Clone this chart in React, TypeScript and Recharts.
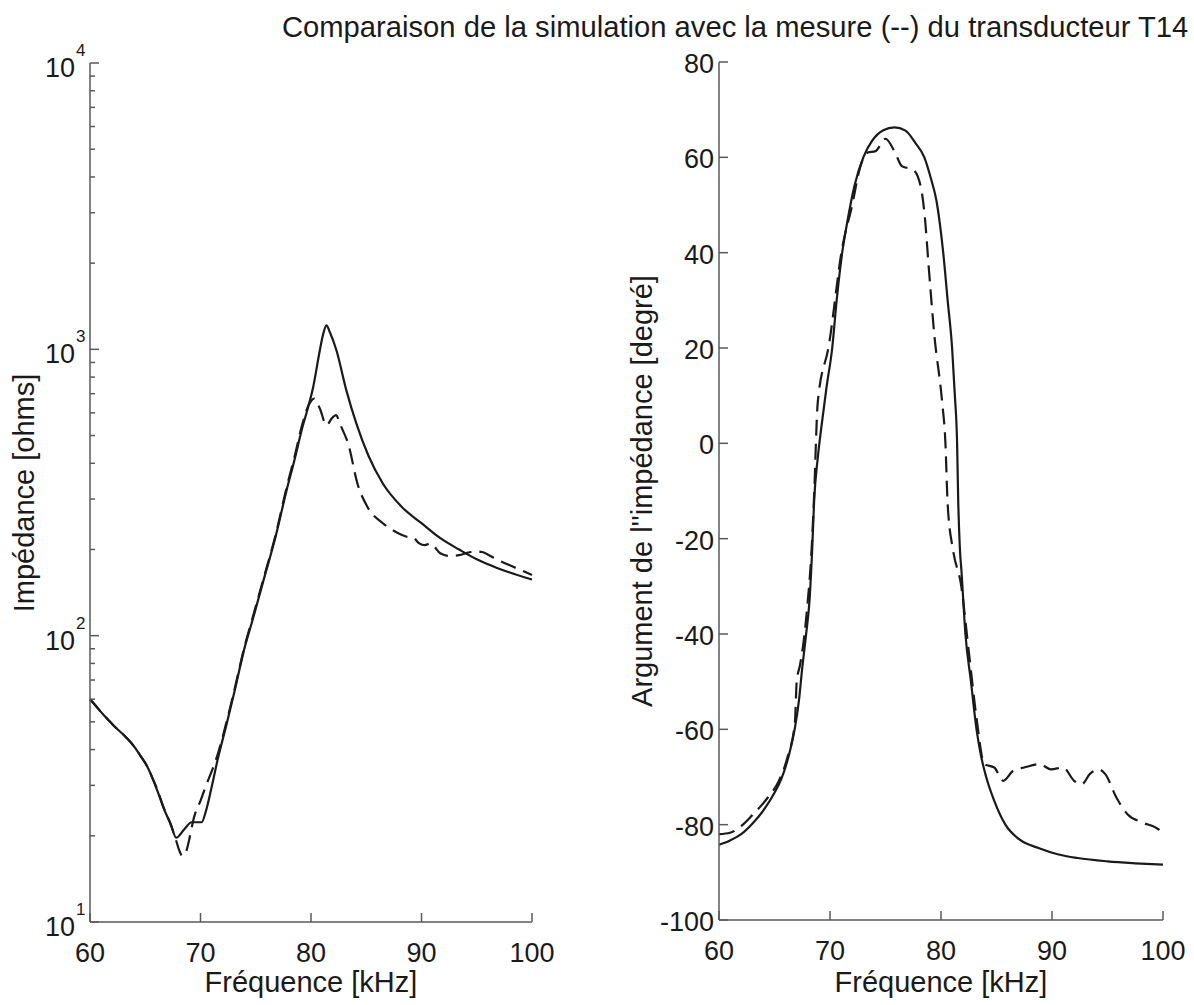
import { LineChart, Line, XAxis, YAxis } from "recharts";

const INK = "#1a1a1a";
const FRAME = "#5a5a5a";
const FONT = "'Liberation Sans', Arial, Helvetica, sans-serif";

// axis ticks
const freqTicks = [60, 70, 80, 90, 100];
const logTicks = [
  10, 20, 30, 40, 50, 60, 70, 80, 90,
  100, 200, 300, 400, 500, 600, 700, 800, 900,
  1000, 2000, 3000, 4000, 5000, 6000, 7000, 8000, 9000, 10000,
];
const argTicks = [-100, -80, -60, -40, -20, 0, 20, 40, 60, 80];

// left panel: impedance modulus, simulation (solid)
const simFreqL = [
  60, 60.5, 61.3, 62.2, 63.25, 64.0, 64.6, 65.2, 65.7, 66.2, 66.7, 67.3, 67.8, 68.5,
  69.2, 70.1, 70.5, 71.0, 71.6, 72.3, 73.0, 74.0, 74.7, 75.7, 76.8, 77.8, 78.5, 79.2,
  79.7, 80.2, 80.8, 81.1, 81.4, 81.7, 82.3, 83.2, 84.1, 85.2, 86.5, 88.2, 90.0, 91.7,
  93.4, 95.1, 96.9, 100,
];
const simImpL = [
  60, 57, 52.5, 48.3, 44.2, 41, 37.9, 34.8, 31.5, 28, 24.8, 22, 19.7, 21,
  22.3, 22.3, 24.5, 29.5, 37.6, 48, 62, 91, 113, 156, 222, 323, 410, 530,
  620, 739, 993, 1130, 1213, 1150, 993, 719, 551, 425, 340, 282, 247, 219,
  200, 184, 172, 157,
];

// left panel: impedance modulus, measurement (dashed)
const mesFreqL = [
  60, 60.5, 61.3, 62.2, 63.25, 64.0, 64.6, 65.2, 65.7, 66.2, 66.6, 67.2, 67.7, 68.1,
  68.35, 68.6, 69.5, 70.0, 70.5, 71.0, 71.6, 72.3, 73.0, 74.0, 74.7, 75.7, 76.8, 77.8,
  78.5, 79.2, 79.8, 80.3, 80.8, 81.4, 81.9, 82.25, 82.7, 83.4, 84.2, 85.1, 86.5, 87.9,
  88.6, 89.3, 89.8, 90.3, 90.8, 91.7, 92.5, 93.4, 94.2, 94.8, 95.5, 96.2, 96.9, 98.3,
  100,
];
const mesImpL = [
  60, 57, 52.5, 48.3, 44.2, 41, 37.9, 34.8, 31.5, 28.3, 25.5, 22.4, 19.8, 17.7,
  17.0, 17.3, 23.8, 26.5, 30, 33.5, 39, 49, 63, 92, 115, 158, 225, 330,
  420, 545, 640, 673, 621, 543, 575, 589, 540, 463, 340, 282, 247, 228,
  222, 219, 210, 207, 210, 194, 190, 191, 195, 197, 196, 190, 184, 174,
  163,
];

// right panel: impedance phase, simulation (solid)
const simFreqR = [
  60, 61, 62, 63, 64, 65, 65.6, 66.15, 66.5, 66.84, 67.2, 67.5, 67.85, 68.15,
  68.4, 68.57, 68.9, 69.2, 69.7, 70.2, 70.6, 71.1, 71.6, 72.2, 73.0, 73.8, 74.8, 75.8,
  76.8, 77.7, 78.5, 79.1, 79.6, 80.2, 80.6, 81.0, 81.25, 81.45, 81.55, 81.7, 81.85, 82.2,
  82.7, 83.2, 83.6, 84.07, 84.8, 85.8, 87, 88.9, 90.5, 92.3, 95, 97.5, 100,
];
const simArgR = [
  -84.2, -83.3, -82, -79.8, -77, -73.3, -70.5, -66.7, -63.5, -59.7, -54, -47.1, -40, -33.1,
  -22, -12.1, -3, 3, 12, 20, 30, 40, 47, 54, 60, 63.5, 65.7, 66.3,
  65.6, 63, 60, 55.5, 50.8, 40, 30, 20, 10, 0, -12, -22, -27, -40,
  -50, -60, -65.5, -70, -75, -80, -83, -85, -86.2, -87, -87.7, -88.1, -88.4,
];

// right panel: impedance phase, measurement (dashed)
const mesFreqR = [
  60, 61, 62, 63, 64.4, 65.4, 66.15, 66.84, 67.0, 67.3, 67.6, 68.0, 68.3, 68.55,
  68.9, 69.9, 71.1, 72.0, 72.7, 73.4, 74.1, 75.0, 75.8, 76.5, 77.5, 78.2, 78.55, 78.9,
  79.4, 80.1, 80.4, 80.6, 81.1, 81.8, 82.5, 83.2, 83.9, 84.8, 85.6, 86.5, 87.5, 88.9,
  89.9, 91.0, 92.0, 92.7, 93.4, 94.2, 94.8, 95.8, 96.8, 98.2, 99.6, 100,
];
const mesArgR = [
  -82, -81.7, -80.3, -78, -74.3, -70.8, -66, -58.5, -50, -46.5, -42, -33, -24, -12,
  8.7, 20.6, 41, 50, 57.8, 61, 61.3, 63.9, 61.3, 58.1, 57.4, 53.6, 47.3, 36.8,
  22.7, 8.7, 0, -12.8, -22.6, -29.6, -43.6, -57.6, -67.3, -68, -70.8, -68.7, -68, -67.3,
  -68.4, -68, -70.8, -71.5, -69.4, -68.4, -69.4, -74.3, -77.8, -79.6, -81, -82,
];

const zip = (fs: number[], vs: number[]) => fs.map((f, i) => ({ f, v: vs[i] }));

const simL = zip(simFreqL, simImpL);
const mesL = zip(mesFreqL, mesImpL);
const simR = zip(simFreqR, simArgR);
const mesR = zip(mesFreqR, mesArgR);

const txt = { fontFamily: FONT, fill: INK };

const BottomTick = (p: any) => (
  <g>
    <line x1={p.x} x2={p.x} y1={p.y} y2={p.y - 9} stroke={FRAME} strokeWidth={1.5} />
    <text x={p.x} y={p.y + 40} textAnchor="middle" fontSize={27} {...txt}>
      {p.payload.value}
    </text>
  </g>
);

const TopTick = (p: any) => (
  <line x1={p.x} x2={p.x} y1={p.y} y2={p.y + 9} stroke={FRAME} strokeWidth={1.5} />
);

const isDecade = (v: number) => {
  const e = Math.log10(v);
  return Math.abs(e - Math.round(e)) < 1e-6;
};

const LogTick = (p: any) => {
  const v = p.payload.value;
  const major = isDecade(v);
  return (
    <g>
      <line x1={p.x} x2={p.x + (major ? 9 : 5)} y1={p.y} y2={p.y} stroke={FRAME} strokeWidth={1.5} />
      {major && (
        <text x={p.x - 45} y={p.y + 14} fontSize={27} {...txt}>
          10
          <tspan x={p.x - 14} y={p.y - 7} fontSize={17}>
            {Math.round(Math.log10(v))}
          </tspan>
        </text>
      )}
    </g>
  );
};

const LogTickRight = (p: any) => {
  const major = isDecade(p.payload.value);
  return (
    <line x1={p.x} x2={p.x - (major ? 9 : 5)} y1={p.y} y2={p.y} stroke={FRAME} strokeWidth={1.5} />
  );
};

const ArgTick = (p: any) => (
  <g>
    <line x1={p.x} x2={p.x + 9} y1={p.y} y2={p.y} stroke={FRAME} strokeWidth={1.5} />
    <text x={p.x - 5} y={p.y + 11} textAnchor="end" fontSize={27} {...txt}>
      {p.payload.value}
    </text>
  </g>
);

const ArgTickRight = (p: any) => (
  <line x1={p.x} x2={p.x - 9} y1={p.y} y2={p.y} stroke={FRAME} strokeWidth={1.5} />
);

const frame = { stroke: FRAME, strokeWidth: 1.5 };
const DASH = "16 8";

const App = () => {
  return (
    <div style={{ position: "absolute", left: 0, top: 0, width: 1194, height: 1005, background: "#fff" }}>
      <div style={{ position: "absolute", left: 0, top: 0 }}>
        <LineChart width={560} height={1005} margin={{ top: 63, right: 28, bottom: 0, left: 0 }}>
          <XAxis
            type="number"
            dataKey="f"
            domain={[60, 100]}
            ticks={freqTicks}
            interval={0}
            height={83}
            tickSize={0}
            tickMargin={0}
            tickLine={false}
            axisLine={frame}
            tick={BottomTick}
          />
          <XAxis
            xAxisId="top"
            orientation="top"
            type="number"
            dataKey="f"
            domain={[60, 100]}
            ticks={freqTicks}
            interval={0}
            height={0}
            tickSize={0}
            tickMargin={0}
            tickLine={false}
            axisLine={frame}
            tick={TopTick}
          />
          <YAxis
            type="number"
            scale="log"
            domain={[10, 10000]}
            allowDataOverflow
            ticks={logTicks}
            interval={0}
            width={90}
            tickSize={0}
            tickMargin={0}
            tickLine={false}
            axisLine={frame}
            tick={LogTick}
          />
          <YAxis
            yAxisId="right"
            orientation="right"
            type="number"
            scale="log"
            domain={[10, 10000]}
            allowDataOverflow
            ticks={logTicks}
            interval={0}
            width={0}
            tickSize={0}
            tickMargin={0}
            tickLine={false}
            axisLine={frame}
            tick={LogTickRight}
          />
          <Line data={simL} dataKey="v" type="monotone" stroke={INK} strokeWidth={2.2} dot={false} activeDot={false} isAnimationActive={false} />
          <Line data={mesL} dataKey="v" type="monotone" stroke={INK} strokeWidth={2.2} strokeDasharray={DASH} dot={false} activeDot={false} isAnimationActive={false} />
        </LineChart>
      </div>

      <div style={{ position: "absolute", left: 600, top: 0 }}>
        <LineChart width={594} height={1005} margin={{ top: 62, right: 31, bottom: 0, left: 0 }}>
          <XAxis
            type="number"
            dataKey="f"
            domain={[60, 100]}
            ticks={freqTicks}
            interval={0}
            height={85}
            tickSize={0}
            tickMargin={0}
            tickLine={false}
            axisLine={frame}
            tick={BottomTick}
          />
          <XAxis
            xAxisId="top"
            orientation="top"
            type="number"
            dataKey="f"
            domain={[60, 100]}
            ticks={freqTicks}
            interval={0}
            height={0}
            tickSize={0}
            tickMargin={0}
            tickLine={false}
            axisLine={frame}
            tick={TopTick}
          />
          <YAxis
            type="number"
            domain={[-100, 80]}
            allowDataOverflow
            ticks={argTicks}
            interval={0}
            width={119}
            tickSize={0}
            tickMargin={0}
            tickLine={false}
            axisLine={frame}
            tick={ArgTick}
          />
          <YAxis
            yAxisId="right"
            orientation="right"
            type="number"
            domain={[-100, 80]}
            allowDataOverflow
            ticks={argTicks}
            interval={0}
            width={0}
            tickSize={0}
            tickMargin={0}
            tickLine={false}
            axisLine={frame}
            tick={ArgTickRight}
          />
          <Line data={simR} dataKey="v" type="monotone" stroke={INK} strokeWidth={2.2} dot={false} activeDot={false} isAnimationActive={false} />
          <Line data={mesR} dataKey="v" type="monotone" stroke={INK} strokeWidth={2.2} strokeDasharray={DASH} dot={false} activeDot={false} isAnimationActive={false} />
        </LineChart>
      </div>

      <svg width={1194} height={1005} style={{ position: "absolute", left: 0, top: 0, pointerEvents: "none" }}>
        <text x={282} y={37} fontSize={29.2} {...txt}>
          Comparaison de la simulation avec la mesure (--) du transducteur T14
        </text>
        <text x={311} y={992} textAnchor="middle" fontSize={29} {...txt}>
          Fréquence [kHz]
        </text>
        <text x={941} y={992} textAnchor="middle" fontSize={29} {...txt}>
          Fréquence [kHz]
        </text>
        <text x={34} y={493} textAnchor="middle" fontSize={29} transform="rotate(-90 34 493)" {...txt}>
          Impédance [ohms]
        </text>
        <text x={652} y={491} textAnchor="middle" fontSize={29} transform="rotate(-90 652 491)" {...txt}>
          Argument de l''impédance [degré]
        </text>
      </svg>
    </div>
  );
};

export default App;
